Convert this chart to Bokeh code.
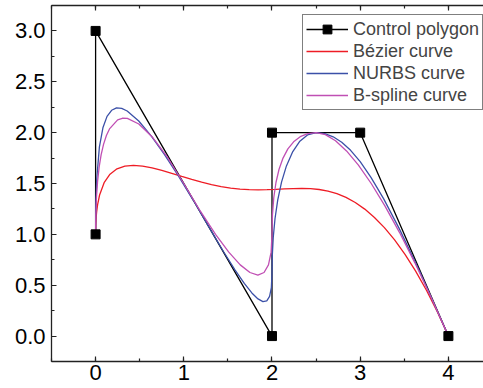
from bokeh.plotting import figure
from bokeh.models import Range1d, LinearAxis, SingleIntervalTicker, PrintfTickFormatter, Legend, LegendItem
from bokeh.embed import file_html
from bokeh.resources import INLINE

# Control polygon
poly_x = [0, 0, 2, 2, 3, 4]
poly_y = [1, 3, 0, 2, 2, 0]

# Bezier curve
bez_x = [0, 0.0019, 0.0077, 0.0119, 0.0228, 0.0452, 0.0967, 0.1634, 0.2426, 0.3319, 0.4291, 0.5325,
         0.6402, 0.7510, 0.8635, 0.9768, 1.0900, 1.2024, 1.3137, 1.4234, 1.5312, 1.6372, 1.7414,
         1.8438, 1.9446, 2.0441, 2.1427, 2.2406, 2.3384, 2.4364, 2.5350, 2.6347, 2.7359, 2.8389,
         2.9440, 3.0515, 3.1616, 3.2745, 3.3900, 3.5081, 3.6286, 3.7511, 3.8752, 4.0]
bez_y = [1.0, 1.0951, 1.1808, 1.2203, 1.2929, 1.3870, 1.5083, 1.5918, 1.6441, 1.6713, 1.6789, 1.6717,
         1.6538, 1.6289, 1.6001, 1.5698, 1.5403, 1.5130, 1.4893, 1.4698, 1.4549, 1.4448, 1.4392,
         1.4375, 1.4389, 1.4424, 1.4466, 1.4502, 1.4517, 1.4492, 1.4410, 1.4252, 1.3999, 1.3633,
         1.3134, 1.2483, 1.1664, 1.0659, 0.9453, 0.8033, 0.6386, 0.4502, 0.2375, 0.0]

# NURBS curve
nurbs_x = [0, 0.0006, 0.0036, 0.0128, 0.0428, 0.0829, 0.1297, 0.1815, 0.2371, 0.2961, 0.3579, 0.4891,
           0.6299, 0.7797, 0.9387, 1.1072, 1.2857, 1.4494, 1.5801, 1.6857, 1.7716, 1.8413, 1.8972,
           1.9408, 1.9727, 1.9928, 2.0, 2.0033, 2.0143, 2.0344, 2.0653, 2.1081, 2.1636, 2.2320, 2.3122,
           2.4025, 2.5, 2.598, 2.6939, 2.7906, 2.8913, 3.0, 3.1220, 3.2649, 3.4412, 3.6723, 4.0]
nurbs_y = [1.0, 1.1346, 1.309, 1.5417, 1.8579, 2.048, 2.160, 2.2198, 2.2427, 2.2383, 2.2127, 2.1141,
           1.9681, 1.7859, 1.5737, 1.3349, 1.0714, 0.8314, 0.6509, 0.5176, 0.4239, 0.3651, 0.3393,
           0.3469, 0.3907, 0.4766, 0.6154, 0.7900, 0.9714, 1.156, 1.3388, 1.5135, 1.6727, 1.8083, 1.9122,
           1.9776, 2.0, 1.99, 1.9592, 1.9058, 1.8261, 1.7143, 1.5610, 1.3510, 1.0588, 0.6387, 0.0]

# B-spline curve
bsp_x = [0, 0.0006, 0.0025, 0.01, 0.0225, 0.04, 0.0625, 0.09, 0.1225, 0.16, 0.25, 0.3025, 0.36, 0.49,
         0.64, 0.81, 1.0, 1.19, 1.36, 1.51, 1.64, 1.75, 1.84, 1.91, 1.96, 1.99, 2.0, 2.005, 2.02, 2.045,
         2.08, 2.125, 2.18, 2.245, 2.32, 2.405, 2.5, 2.605, 2.72, 2.845, 2.98, 3.125, 3.28, 3.445, 3.62,
         3.805, 4.0]
bsp_y = [1.0, 1.0978, 1.1913, 1.365, 1.5213, 1.66, 1.7813, 1.885, 1.9713, 2.04, 2.125, 2.1413, 2.14,
         2.085, 1.96, 1.765, 1.5, 1.225, 1.0, 0.825, 0.7, 0.625, 0.6, 0.625, 0.7, 0.825, 1.0, 1.19, 1.36,
         1.51, 1.64, 1.75, 1.84, 1.91, 1.96, 1.99, 2.0, 1.98, 1.92, 1.82, 1.68, 1.5, 1.28, 1.02, 0.72,
         0.38, 0.0]

labels = ["Control polygon", "Bézier curve", "NURBS curve", "B-spline curve"]
colors = ["black", "#ee1c25", "#3b50a8", "#c04fb4"]

FONT = "Liberation Sans"

p = figure(width=483, height=388, output_backend="svg", toolbar_location=None,
           x_range=Range1d(-0.5, 4.398), y_range=Range1d(-0.25, 3.25),
           min_border_left=51, min_border_right=0, min_border_top=5, min_border_bottom=27,
           x_axis_location=None, y_axis_location=None)
p.outline_line_color = None
p.grid.visible = False
p.background_fill_color = "white"
p.border_fill_color = "white"

r_poly = p.line(poly_x, poly_y, line_color=colors[0], line_width=1.3)
r_bez = p.line(bez_x, bez_y, line_color=colors[1], line_width=1.3)
r_nurbs = p.line(nurbs_x, nurbs_y, line_color=colors[2], line_width=1.3)
r_bsp = p.line(bsp_x, bsp_y, line_color=colors[3], line_width=1.3)
r_pts = p.scatter(poly_x, poly_y, marker="square", size=9, fill_color="black", line_color="black")


def style_axis(ax, show_labels=True):
    ax.axis_line_width = 1.3
    ax.axis_line_color = "#222222"
    ax.major_tick_in = 5
    ax.major_tick_out = 0
    ax.minor_tick_in = 3
    ax.minor_tick_out = 0
    ax.major_tick_line_width = 1.2
    ax.minor_tick_line_width = 1.2
    ax.major_tick_line_color = "#222222"
    ax.minor_tick_line_color = "#222222"
    if show_labels:
        ax.major_label_text_font = FONT
        ax.major_label_text_font_size = "22px"
        ax.major_label_text_color = "black"
    else:
        ax.major_label_text_font_size = "0px"
        ax.major_label_text_color = None
        ax.major_label_standoff = 0


xb = LinearAxis(ticker=SingleIntervalTicker(interval=1, num_minor_ticks=2),
                formatter=PrintfTickFormatter(format="%d"))
style_axis(xb)
xb.major_label_standoff = 3
p.add_layout(xb, "below")

xt = LinearAxis(ticker=SingleIntervalTicker(interval=1, num_minor_ticks=2))
style_axis(xt, show_labels=False)
p.add_layout(xt, "above")

yl = LinearAxis(ticker=SingleIntervalTicker(interval=0.5, num_minor_ticks=2),
                formatter=PrintfTickFormatter(format="%.1f"))
style_axis(yl)
yl.major_label_standoff = 6
p.add_layout(yl, "left")

legend = Legend(items=[
    LegendItem(label=labels[0], renderers=[r_poly, r_pts]),
    LegendItem(label=labels[1], renderers=[r_bez]),
    LegendItem(label=labels[2], renderers=[r_nurbs]),
    LegendItem(label=labels[3], renderers=[r_bsp]),
], location=(251, 251))
legend.label_text_font = FONT
legend.label_text_font_size = "18px"
legend.label_standoff = 5
legend.glyph_width = 42
legend.glyph_height = 22
legend.label_height = 22
legend.spacing = 0
legend.padding = 3
legend.margin = 0
legend.border_line_color = "black"
legend.border_line_width = 1.2
legend.background_fill_alpha = 1.0
p.add_layout(legend, "center")

open("out.html", "w").write(file_html(p, INLINE))
